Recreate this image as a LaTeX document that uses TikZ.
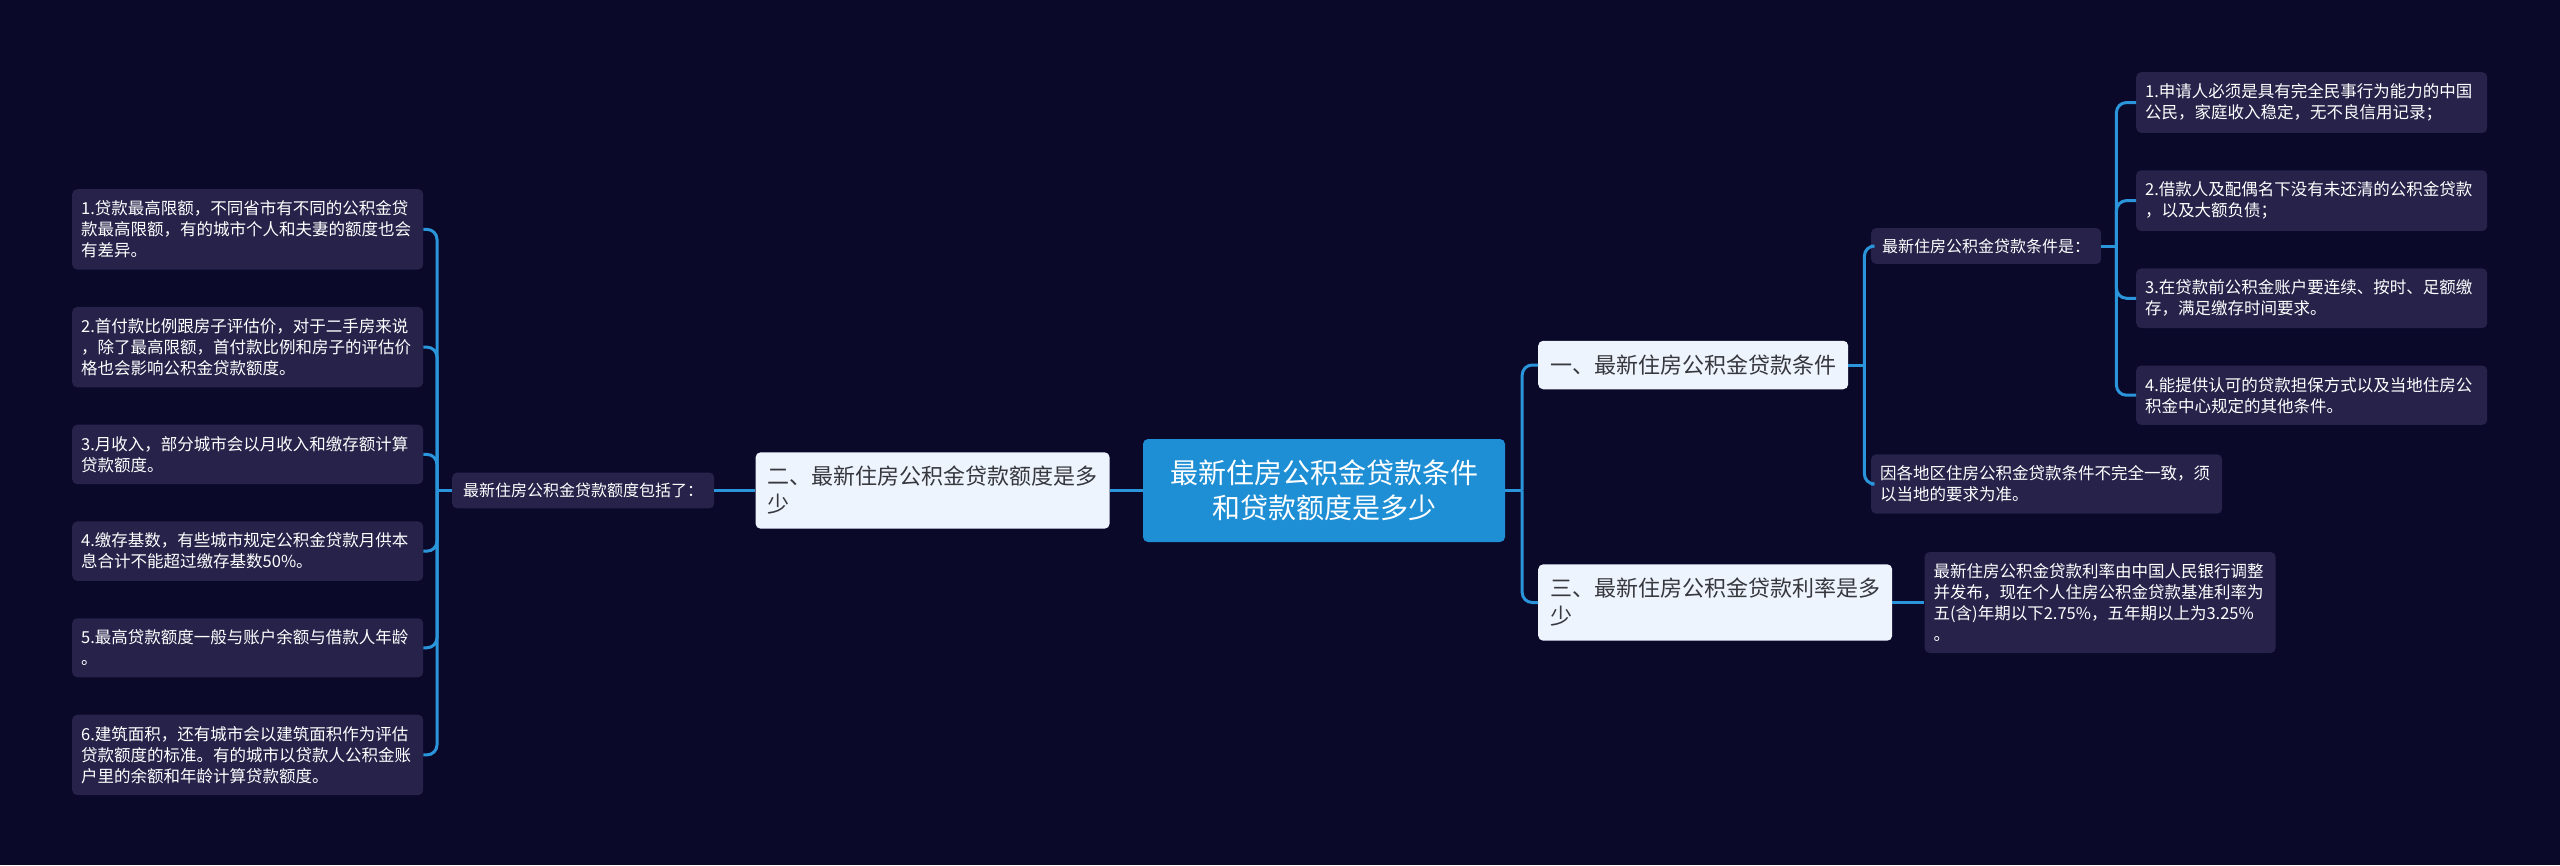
\documentclass[tikz,border=0pt]{standalone}
\usepackage{fontspec}
\setmainfont{Noto Sans CJK SC}
\usetikzlibrary{positioning}
\usepackage{color}
\definecolor{bgnavy}{RGB}{11, 9, 42}
\definecolor{leafbg}{RGB}{38, 34, 74}
\definecolor{topicbg}{RGB}{238, 244, 253}
\definecolor{rootbg}{RGB}{30, 143, 213}
\definecolor{wire}{RGB}{42, 149, 218}
\definecolor{topictext}{RGB}{55, 55, 62}

\begin{document}
\begin{tikzpicture}[x=1pt, y=-1pt,
    root/.style={fill=rootbg, text=white, rounded corners=5pt, align=center, font=\fontsize{28}{35}\selectfont, minimum width=362pt, minimum height=103pt},
    topic/.style={fill=topicbg, text=topictext, rounded corners=5pt, align=left, font=\fontsize{22}{28}\selectfont, inner xsep=12pt, inner ysep=14pt},
    hub/.style={fill=leafbg, text=white, rounded corners=5pt, font=\fontsize{16}{20}\selectfont, inner xsep=11pt, inner ysep=10.5pt},
    leaf/.style={fill=leafbg, text=white, rounded corners=5pt, align=left, text width=333pt, font=\fontsize{16.5}{21}\selectfont, inner xsep=9pt, inner ysep=11.5pt},
    link/.style={draw=wire, line width=3pt, rounded corners=10pt}]
            \fill[bgnavy] (0,0) rectangle (2560,865);
            \useasboundingbox (0,0) rectangle (2560,865);

            \node[root] (root) at (1324,490.5) {最新住房公积金贷款条件\\和贷款额度是多少};
            \node[topic, left=33pt of root] (two) {二、最新住房公积金贷款额度是多\\少};
            \node[hub, left=41pt of two] (incl) {最新住房公积金贷款额度包括了：};

            \node[leaf, anchor=north west] (l1) at (72,189) {1.贷款最高限额，不同省市有不同的公积金贷\\款最高限额，有的城市个人和夫妻的额度也会\\有差异。};
            \node[leaf, below=37pt of l1] (l2) {2.首付款比例跟房子评估价，对于二手房来说\\，除了最高限额，首付款比例和房子的评估价\\格也会影响公积金贷款额度。};
            \node[leaf, below=37pt of l2] (l3) {3.月收入，部分城市会以月收入和缴存额计算\\贷款额度。};
            \node[leaf, below=37pt of l3] (l4) {4.缴存基数，有些城市规定公积金贷款月供本\\息合计不能超过缴存基数50\%。};
            \node[leaf, below=37pt of l4] (l5) {5.最高贷款额度一般与账户余额与借款人年龄\\。};
            \node[leaf, below=37pt of l5] (l6) {6.建筑面积，还有城市会以建筑面积作为评估\\贷款额度的标准。有的城市以贷款人公积金账\\户里的余额和年龄计算贷款额度。};

            \node[topic, anchor=west] (one) at (1538,365) {一、最新住房公积金贷款条件};
            \node[topic, anchor=west] (three) at (1538,602.5) {三、最新住房公积金贷款利率是多\\少};
            \node[hub, anchor=west] (cond) at (1871,246) {最新住房公积金贷款条件是：};
            \node[leaf, anchor=west] (local) at (1871,484) {因各地区住房公积金贷款条件不完全一致，须\\以当地的要求为准。};
            \node[leaf, right=32pt of three] (rate) {最新住房公积金贷款利率由中国人民银行调整\\并发布，现在个人住房公积金贷款基准利率为\\五(含)年期以下2.75\%，五年期以上为3.25\%\\。};

            \node[leaf, anchor=north west] (r1) at (2136,72) {1.申请人必须是具有完全民事行为能力的中国\\公民，家庭收入稳定，无不良信用记录；};
            \node[leaf, below=37pt of r1] (r2) {2.借款人及配偶名下没有未还清的公积金贷款\\，以及大额负债；};
            \node[leaf, below=37pt of r2] (r3) {3.在贷款前公积金账户要连续、按时、足额缴\\存，满足缴存时间要求。};
            \node[leaf, below=37pt of r3] (r4) {4.能提供认可的贷款担保方式以及当地住房公\\积金中心规定的其他条件。};

            % bus points
            \coordinate (lbus) at ([xshift=-15pt]incl.west);
            \coordinate (rbus) at ([xshift=17pt]root.east);
            \coordinate (onebus) at ([xshift=16pt]one.east);
            \coordinate (condbus) at ([xshift=15pt]cond.east);

            \draw[link] (root.west) -- (two.east);
            \draw[link] (two.west) -- (incl.east);
            \draw[link] (incl.west) -- (lbus);
            \foreach \n in {l1,l2,l3,l4,l5,l6}
                \draw[link] (lbus) |- (\n.east);

            \draw[link] (root.east) -- (rbus);
            \draw[link] (rbus) |- (one.west);
            \draw[link] (rbus) |- (three.west);
            \draw[link] (three.east) -- (rate.west);
            \draw[link] (one.east) -- (onebus);
            \draw[link] (onebus) |- (cond.west);
            \draw[link] (onebus) |- (local.west);
            \draw[link] (cond.east) -- (condbus);
            \foreach \n in {r1,r2,r3,r4}
                \draw[link] (condbus) |- (\n.west);
        \end{tikzpicture}
\end{document}
